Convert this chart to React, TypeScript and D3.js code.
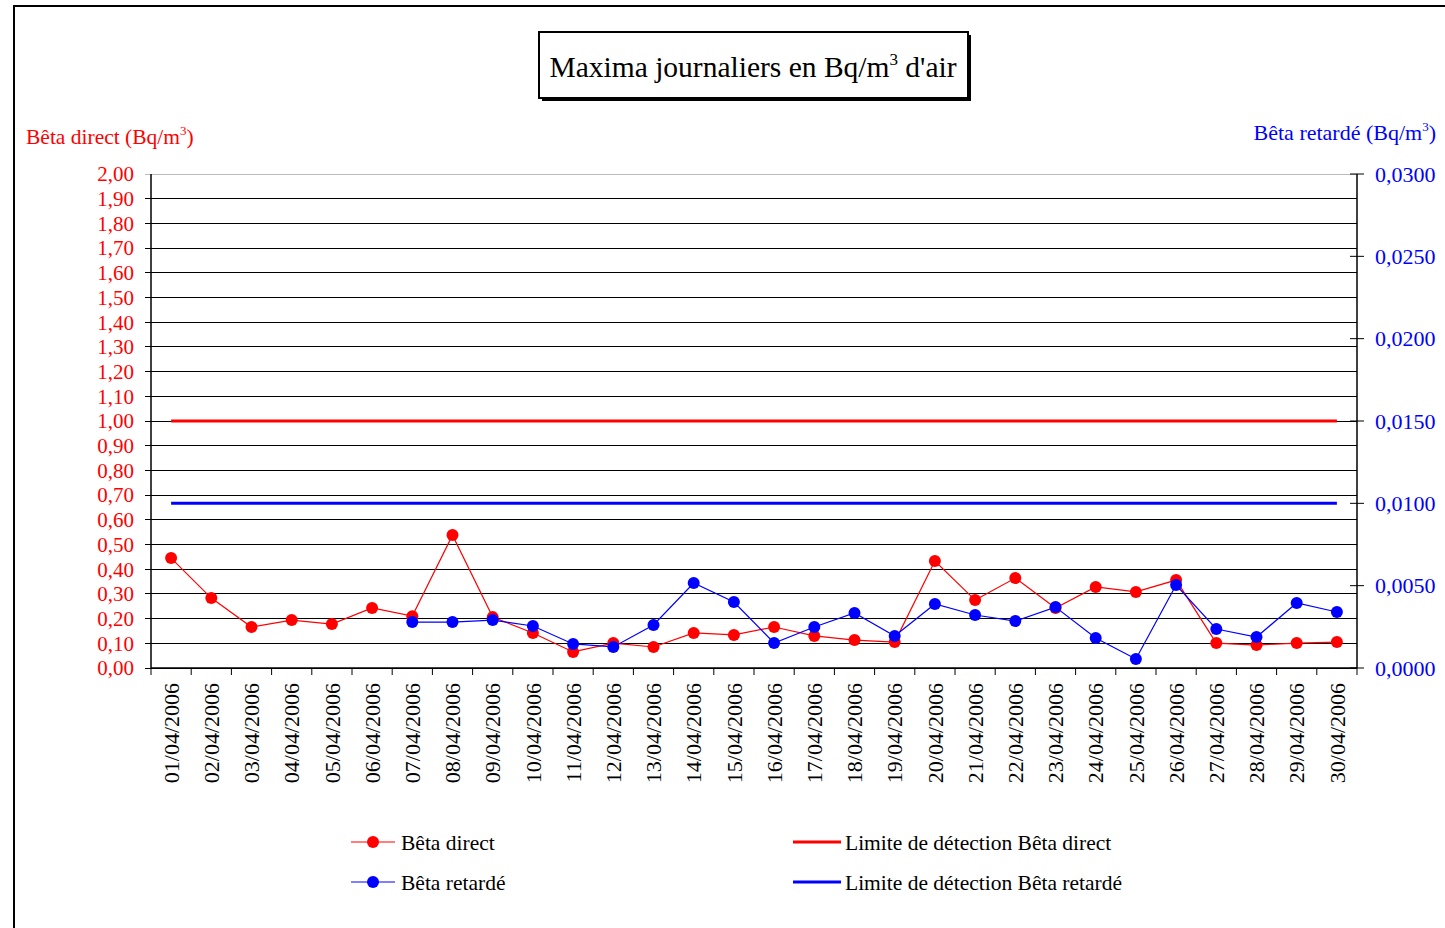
import * as d3 from 'd3';
import React from 'react';

const dates = d3.range(1, 31).map(d => `${String(d).padStart(2, '0')}/04/2006`);

const betaDirect = [
    0.445, 0.283, 0.166, 0.194, 0.178, 0.243, 0.21, 0.538, 0.206, 0.142,
    0.065, 0.101, 0.085, 0.142, 0.134, 0.166, 0.13, 0.113, 0.105, 0.433,
    0.275, 0.364, 0.243, 0.328, 0.308, 0.356, 0.101, 0.093, 0.101, 0.105,
];

const betaRetarde: (number | null)[] = [
    null, null, null, null, null, null, 0.00279, 0.00279, 0.00291, 0.00255,
    0.00146, 0.00128, 0.00261, 0.00516, 0.00401, 0.00152, 0.00249, 0.00334, 0.00194, 0.00389,
    0.00322, 0.00285, 0.0037, 0.00182, 0.00055, 0.00504, 0.00237, 0.00188, 0.00395, 0.0034,
];

const limiteDirect = 1.0;
const limiteRetarde = 0.01;

const leftTicks = d3.range(0, 21).map(i => i / 10);
const rightTicks = d3.range(0, 7).map(i => i * 0.005);

const fmtLeft = (v: number) => v.toFixed(2).replace('.', ',');
const fmtRight = (v: number) => v.toFixed(4).replace('.', ',');

const FONT = '"Liberation Serif", "Times New Roman", serif';

const App: React.FC = () => {
    const width = 1445;
    const height = 928;
    const left = 151;
    const right = 1357;
    const top = 174;
    const bottom = 668;

    const x = d3.scaleBand<string>().domain(dates).range([left, right]).padding(0);
    const cx = (d: string) => (x(d) as number) + x.bandwidth() / 2;
    const yL = d3.scaleLinear().domain([0, 2]).range([bottom, top]);
    const yR = d3.scaleLinear().domain([0, 0.03]).range([bottom, top]);

    const directLine = d3.line<number>()
        .x((_, i) => cx(dates[i]))
        .y(d => yL(d));

    const retardeLine = d3.line<number | null>()
        .defined(d => d !== null)
        .x((_, i) => cx(dates[i]))
        .y(d => yR(d as number));

    const firstX = cx(dates[0]);
    const lastX = cx(dates[dates.length - 1]);

    return (
        <svg width={width} height={height} style={{ position: 'absolute', left: 0, top: 0 }} fontFamily={FONT}>
            <rect x={0} y={0} width={width} height={height} fill="#fff" />
            {/* outer frame */}
            <path d={`M14,${height + 5} L14,6 L${width + 5},6`} fill="none" stroke="#000" strokeWidth={2} />

            {/* title box */}
            <rect x={542} y={35} width={429} height={66} fill="#000" />
            <rect x={539} y={32} width={429} height={66} fill="#fff" stroke="#000" strokeWidth={2} />
            <text x={753} y={77} textAnchor="middle" fontSize={29.5} fill="#000">
                Maxima journaliers en Bq/m<tspan dy={-12} fontSize={17}>3</tspan><tspan dy={12}> d'air</tspan>
            </text>

            {/* axis titles */}
            <text x={26} y={144} fontSize={21.5} fill="#ff0000">
                Bêta direct (Bq/m<tspan dy={-9} fontSize={13}>3</tspan><tspan dy={9}>)</tspan>
            </text>
            <text x={1436} y={140} fontSize={22} fill="#0000ff" textAnchor="end">
                Bêta retardé (Bq/m<tspan dy={-9} fontSize={13}>3</tspan><tspan dy={9}>)</tspan>
            </text>

            {/* gridlines */}
            {leftTicks.map(t => (
                <line key={`g${t}`} x1={145} x2={right} y1={yL(t)} y2={yL(t)}
                    stroke={t === 2 ? '#bbb' : '#000'} strokeWidth={1} shapeRendering="crispEdges" />
            ))}

            {/* left axis */}
            <line x1={left} x2={left} y1={top} y2={bottom} stroke="#000" strokeWidth={1.5} />
            {leftTicks.map(t => (
                <text key={`l${t}`} x={134} y={yL(t)} dy="0.35em" textAnchor="end" fontSize={21} fill="#ff0000">
                    {fmtLeft(t)}
                </text>
            ))}

            {/* right axis */}
            <line x1={right} x2={right} y1={top} y2={bottom} stroke="#000" strokeWidth={1.5} />
            {rightTicks.map(t => (
                <g key={`r${t}`}>
                    <line x1={right - 7} x2={right + 7} y1={yR(t)} y2={yR(t)} stroke="#000" strokeWidth={1} />
                    <text x={1375} y={yR(t)} dy="0.35em" fontSize={22} fill="#0000ff">{fmtRight(t)}</text>
                </g>
            ))}

            {/* x axis */}
            <line x1={left} x2={right} y1={bottom} y2={bottom} stroke="#000" strokeWidth={1.5} />
            {d3.range(0, dates.length + 1).map(i => {
                const xx = left + i * x.bandwidth();
                return <line key={`xt${i}`} x1={xx} x2={xx} y1={bottom} y2={bottom + 7} stroke="#000" strokeWidth={1} />;
            })}
            {dates.map(d => (
                <text key={`xl${d}`} transform={`translate(${cx(d)},683) rotate(-90)`} dy="0.35em"
                    textAnchor="end" fontSize={22} fill="#000">{d}</text>
            ))}

            {/* detection limits */}
            <line x1={firstX} x2={lastX} y1={yL(limiteDirect)} y2={yL(limiteDirect)} stroke="#ff0000" strokeWidth={3} />
            <line x1={firstX} x2={lastX} y1={yR(limiteRetarde)} y2={yR(limiteRetarde)} stroke="#0000ff" strokeWidth={3} />

            {/* series */}
            <path d={directLine(betaDirect) || ''} fill="none" stroke="#ff0000" strokeWidth={1.2} />
            {betaDirect.map((v, i) => (
                <circle key={`dc${i}`} cx={cx(dates[i])} cy={yL(v)} r={6} fill="#ff0000" />
            ))}
            <path d={retardeLine(betaRetarde) || ''} fill="none" stroke="#0000ff" strokeWidth={1.2} />
            {betaRetarde.map((v, i) => v === null ? null : (
                <circle key={`rc${i}`} cx={cx(dates[i])} cy={yR(v)} r={6} fill="#0000ff" />
            ))}

            {/* legend */}
            <g fontSize={21.5} fill="#000">
                <line x1={351} x2={395} y1={842} y2={842} stroke="#ff0000" strokeWidth={1.2} />
                <circle cx={373} cy={842} r={6} fill="#ff0000" />
                <text x={401} y={842} dy="0.35em">Bêta direct</text>

                <line x1={351} x2={395} y1={882} y2={882} stroke="#0000ff" strokeWidth={1.2} />
                <circle cx={373} cy={882} r={6} fill="#0000ff" />
                <text x={401} y={882} dy="0.35em">Bêta retardé</text>

                <line x1={793} x2={841} y1={842} y2={842} stroke="#ff0000" strokeWidth={3} />
                <text x={845} y={842} dy="0.35em">Limite de détection Bêta direct</text>

                <line x1={793} x2={841} y1={882} y2={882} stroke="#0000ff" strokeWidth={3} />
                <text x={845} y={882} dy="0.35em">Limite de détection Bêta retardé</text>
            </g>
        </svg>
    );
};

export default App;
